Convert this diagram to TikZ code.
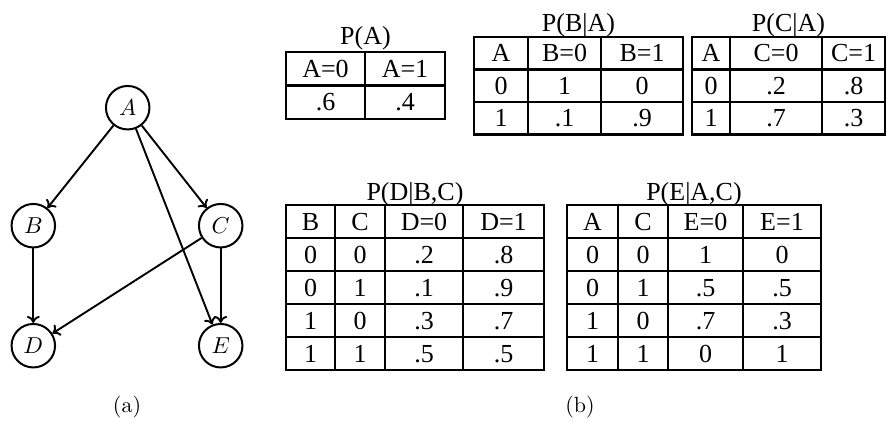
\documentclass[tikz,border=0pt]{standalone}
\usepackage{fontspec}
\usepackage{graphicx}
\newfontfamily\tabfont{Liberation Serif}
\usetikzlibrary{arrows.meta}
\newcommand{\bigmath}[1]{\scalebox{2.3}{$#1$}}
\begin{document}
\begin{tikzpicture}[x=1pt,y=-1pt,
  gnode/.style={circle, draw, line width=2pt, minimum size=43.5pt, inner sep=0pt},
  edge/.style={line width=1.9pt, -{To[length=7pt,width=13pt]}},
  tline/.style={line width=2.5pt},
  cell/.style={inner sep=0pt, text height=17pt, text depth=0pt, font=\tabfont\fontsize{26}{30}\selectfont},
  sublabel/.style={inner sep=0pt}]
\useasboundingbox (0,0) rectangle (896,421);

% graph
\node[gnode] (A) at (127.7,107.7) {\bigmath{A}};
\node[gnode] (B) at (33.3,225.7) {\bigmath{B}};
\node[gnode] (C) at (220.7,225.7) {\bigmath{C}};
\node[gnode] (D) at (33.3,345.7) {\bigmath{D}};
\node[gnode] (E) at (220.7,345.7) {\bigmath{E}};
\draw[edge] (A) -- (B);
\draw[edge] (A) -- (C);
\draw[edge] (A) -- (E);
\draw[edge] (B) -- (D);
\draw[edge] (C) -- (D);
\draw[edge] (C) -- (E);
\node[sublabel] (la) at (127,407) {\scalebox{2.2}{(a)}};
\node[sublabel] (lb) at (580,407) {\scalebox{2.2}{(b)}};

% P(A)
\node[cell] (tA) at (365.5,35.5) {P(A)};
\draw[tline] (286,52) rectangle (445,119) (365,52) -- (365,119) (286,85.5) -- (445,85.5);
\node[cell] (a11) at (325.5,68.75) {A=0};
\node[cell] (a12) at (405,68.75) {A=1};
\node[cell] (a21) at (325.5,102.25) {.6};
\node[cell] (a22) at (405,102.25) {.4};

% P(B|A)
\node[cell] (tB) at (578.5,22.5) {P(B|A)};
\draw[tline] (474,37) rectangle (683,134.5) (528,37) -- (528,134.5) (601,37) -- (601,134.5)
  (474,69.5) -- (683,69.5) (474,102) -- (683,102);
\node[cell] (b11) at (501,53.25) {A};
\node[cell] (b12) at (564.5,53.25) {B=0};
\node[cell] (b13) at (642,53.25) {B=1};
\node[cell] (b21) at (501,85.75) {0};
\node[cell] (b22) at (564.5,85.75) {1};
\node[cell] (b23) at (642,85.75) {0};
\node[cell] (b31) at (501,118.25) {1};
\node[cell] (b32) at (564.5,118.25) {.1};
\node[cell] (b33) at (642,118.25) {.9};

% P(C|A)
\node[cell] (tC) at (788.5,22.5) {P(C|A)};
\draw[tline] (692,37) rectangle (885,134.5) (730,37) -- (730,134.5) (822,37) -- (822,134.5)
  (692,69.5) -- (885,69.5) (692,102) -- (885,102);
\node[cell] (c11) at (711,53.25) {A};
\node[cell] (c12) at (776,53.25) {C=0};
\node[cell] (c13) at (853.5,53.25) {C=1};
\node[cell] (c21) at (711,85.75) {0};
\node[cell] (c22) at (776,85.75) {.2};
\node[cell] (c23) at (853.5,85.75) {.8};
\node[cell] (c31) at (711,118.25) {1};
\node[cell] (c32) at (776,118.25) {.7};
\node[cell] (c33) at (853.5,118.25) {.3};

% P(D|B,C)
\node[cell] (tD) at (415,191.7) {P(D|B,C)};
\draw[tline] (286,205) rectangle (544,370) (335,205) -- (335,370) (385,205) -- (385,370) (463,205) -- (463,370)
  (286,238) -- (544,238) (286,271) -- (544,271) (286,304) -- (544,304) (286,337) -- (544,337);
\node[cell] (d11) at (310.5,221.5) {B};
\node[cell] (d12) at (360,221.5) {C};
\node[cell] (d13) at (424,221.5) {D=0};
\node[cell] (d14) at (503.5,221.5) {D=1};
\node[cell] (d21) at (310.5,254.5) {0};
\node[cell] (d22) at (360,254.5) {0};
\node[cell] (d23) at (424,254.5) {.2};
\node[cell] (d24) at (503.5,254.5) {.8};
\node[cell] (d31) at (310.5,287.5) {0};
\node[cell] (d32) at (360,287.5) {1};
\node[cell] (d33) at (424,287.5) {.1};
\node[cell] (d34) at (503.5,287.5) {.9};
\node[cell] (d41) at (310.5,320.5) {1};
\node[cell] (d42) at (360,320.5) {0};
\node[cell] (d43) at (424,320.5) {.3};
\node[cell] (d44) at (503.5,320.5) {.7};
\node[cell] (d51) at (310.5,353.5) {1};
\node[cell] (d52) at (360,353.5) {1};
\node[cell] (d53) at (424,353.5) {.5};
\node[cell] (d54) at (503.5,353.5) {.5};

% P(E|A,C)
\node[cell] (tE) at (694,191.7) {P(E|A,C)};
\draw[tline] (567,205) rectangle (821,370) (618,205) -- (618,370) (668,205) -- (668,370) (743,205) -- (743,370)
  (567,238) -- (821,238) (567,271) -- (821,271) (567,304) -- (821,304) (567,337) -- (821,337);
\node[cell] (e11) at (592.5,221.5) {A};
\node[cell] (e12) at (643,221.5) {C};
\node[cell] (e13) at (705.5,221.5) {E=0};
\node[cell] (e14) at (782,221.5) {E=1};
\node[cell] (e21) at (592.5,254.5) {0};
\node[cell] (e22) at (643,254.5) {0};
\node[cell] (e23) at (705.5,254.5) {1};
\node[cell] (e24) at (782,254.5) {0};
\node[cell] (e31) at (592.5,287.5) {0};
\node[cell] (e32) at (643,287.5) {1};
\node[cell] (e33) at (705.5,287.5) {.5};
\node[cell] (e34) at (782,287.5) {.5};
\node[cell] (e41) at (592.5,320.5) {1};
\node[cell] (e42) at (643,320.5) {0};
\node[cell] (e43) at (705.5,320.5) {.7};
\node[cell] (e44) at (782,320.5) {.3};
\node[cell] (e51) at (592.5,353.5) {1};
\node[cell] (e52) at (643,353.5) {1};
\node[cell] (e53) at (705.5,353.5) {0};
\node[cell] (e54) at (782,353.5) {1};
\end{tikzpicture}
\end{document}
